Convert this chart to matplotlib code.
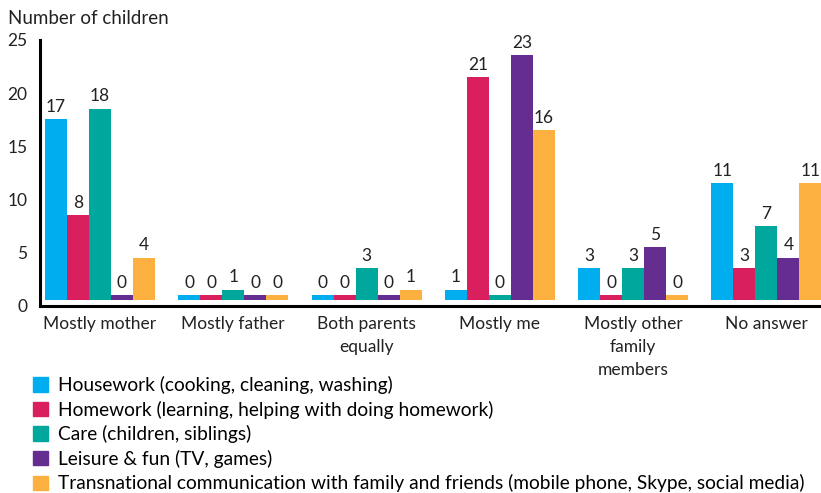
import matplotlib.pyplot as plt
import numpy as np
from matplotlib.patches import Patch

plt.rcParams['font.family'] = ['Lato', 'DejaVu Sans']

categories = ['Mostly mother', 'Mostly father', 'Both parents\nequally', 'Mostly me',
              'Mostly other\nfamily\nmembers', 'No answer']
series_names = ['Housework (cooking, cleaning, washing)',
                'Homework (learning, helping with doing homework)',
                'Care (children, siblings)',
                'Leisure & fun (TV, games)',
                'Transnational communication with family and friends (mobile phone, Skype, social media)']
housework = [17, 0, 0, 1, 3, 11]
homework = [8, 0, 0, 21, 0, 3]
care = [18, 1, 3, 0, 3, 7]
leisure = [0, 0, 0, 23, 5, 4]
transnational = [4, 0, 1, 16, 0, 11]
colors = ['#00AEEF', '#DA1F5E', '#00A79D', '#662D91', '#FBB040']

series = [housework, homework, care, leisure, transnational]

fig = plt.figure(figsize=(8.21, 4.93), dpi=100)
ax = fig.add_axes([40/821, 1-306/493, 1-40/821, 266/493])

x = np.arange(len(categories))
w = 0.165
base = 0.55
for i, (vals, c) in enumerate(zip(series, colors)):
    vals = np.array(vals)
    h = np.where(vals == 0, 0.45, vals)  # zeros shown as a thin stub
    pos = x + (i - 2) * w
    ax.bar(pos, h, w, bottom=base, color=c)
    for px, hv, v in zip(pos, h, vals):
        ax.annotate(str(v), (px, base + hv), xytext=(0, 3), textcoords='offset points',
                    ha='center', va='bottom', fontsize=12.5, color='#222222')

ax.set_xlim(-0.45, 5.41)
ax.set_ylim(0, 25)
ax.set_yticks([0, 5, 10, 15, 20, 25])
ax.set_xticks(x)
ax.set_xticklabels(categories, fontsize=12.3, color='#222222', linespacing=1.55, va='top')
ax.tick_params(axis='both', length=0, labelsize=12.5, colors='#222222')
ax.tick_params(axis='y', pad=9)
ax.tick_params(axis='x', pad=7)
ax.spines['top'].set_visible(False)
ax.spines['right'].set_visible(False)
ax.spines['left'].set_linewidth(2.2)
ax.spines['bottom'].set_linewidth(2.2)

fig.text(8/821, 1-18/493, 'Number of children', fontsize=13.5, color='#222222', va='center')

handles = [Patch(color=c) for c in colors]
fig.legend(handles, series_names, loc='upper left', bbox_to_anchor=(33/821, 1-376/493),
           frameon=False, fontsize=13.8, handlelength=0.78, handleheight=0.78,
           handletextpad=0.5, labelspacing=0.34, borderaxespad=0, borderpad=0)

plt.savefig('out.png', dpi=100)
